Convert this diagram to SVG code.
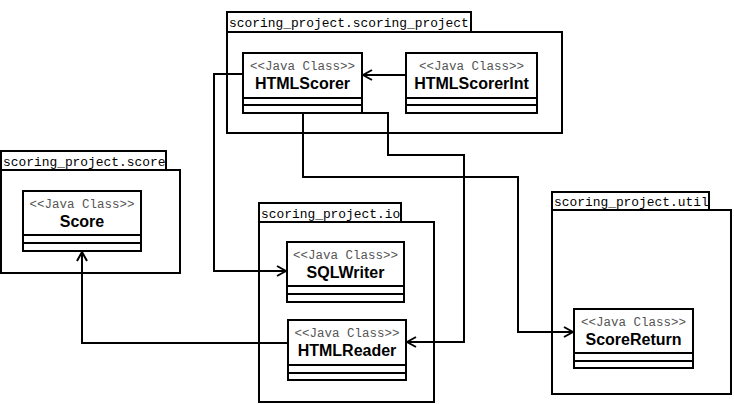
<svg xmlns="http://www.w3.org/2000/svg" width="734" height="404" viewBox="0 0 734 404">
<style>
.box{fill:#fff;stroke:#000;stroke-width:2}
.ln{fill:none;stroke:#000;stroke-width:2}
.pk{font-family:"Liberation Mono","Courier New",monospace;font-size:12.9px;fill:#000}
.st{font-family:"Liberation Mono","Courier New",monospace;font-size:12.5px;fill:#555;text-anchor:middle}
.nm{font-family:"Liberation Sans",Arial,sans-serif;font-size:16px;font-weight:bold;fill:#000;text-anchor:middle}
.con{fill:none;stroke:#000;stroke-width:2;stroke-linejoin:miter}
</style>
<defs>
<marker id="arr" viewBox="0 0 12 12" refX="11" refY="6" markerWidth="12" markerHeight="12" markerUnits="userSpaceOnUse" orient="auto">
<path d="M2,1 L11,6 L2,11" fill="none" stroke="#000" stroke-width="2"/>
</marker>
</defs>
<rect width="734" height="404" fill="#fff"/>

<g id="pkg-scoring_project">
<rect class="box" x="227" y="12" width="244" height="20"/>
<rect class="box" x="227" y="32" width="335" height="101"/>
<text class="pk" x="229" y="27">scoring_project.scoring_project</text>
</g>
<g id="pkg-score">
<rect class="box" x="1" y="151" width="165" height="19"/>
<rect class="box" x="1" y="170" width="179" height="103"/>
<text class="pk" x="3" y="166">scoring_project.score</text>
</g>
<g id="pkg-io">
<rect class="box" x="259" y="203" width="142" height="19"/>
<rect class="box" x="259" y="222" width="175" height="180"/>
<text class="pk" x="261" y="218">scoring_project.io</text>
</g>
<g id="pkg-util">
<rect class="box" x="552" y="192" width="157" height="18"/>
<rect class="box" x="552" y="210" width="179" height="184"/>
<text class="pk" x="554" y="206">scoring_project.util</text>
</g>

<g id="HTMLScorer">
<rect class="box" x="243" y="53" width="119" height="60"/>
<line class="ln" x1="243" y1="98" x2="362" y2="98"/>
<line class="ln" x1="243" y1="105" x2="362" y2="105"/>
<text class="st" x="302.5" y="70">&lt;&lt;Java Class&gt;&gt;</text>
<text class="nm" x="302.5" y="89">HTMLScorer</text>
</g>
<g id="HTMLScorerInt">
<rect class="box" x="406" y="53" width="131" height="60"/>
<line class="ln" x1="406" y1="98" x2="537" y2="98"/>
<line class="ln" x1="406" y1="105" x2="537" y2="105"/>
<text class="st" x="471.5" y="70">&lt;&lt;Java Class&gt;&gt;</text>
<text class="nm" x="471.5" y="89">HTMLScorerInt</text>
</g>
<g id="Score">
<rect class="box" x="23" y="191" width="118" height="60"/>
<line class="ln" x1="23" y1="235" x2="141" y2="235"/>
<line class="ln" x1="23" y1="243" x2="141" y2="243"/>
<text class="st" x="82" y="208">&lt;&lt;Java Class&gt;&gt;</text>
<text class="nm" x="82" y="227">Score</text>
</g>
<g id="SQLWriter">
<rect class="box" x="287" y="242" width="117" height="60"/>
<line class="ln" x1="287" y1="286" x2="404" y2="286"/>
<line class="ln" x1="287" y1="294" x2="404" y2="294"/>
<text class="st" x="345.5" y="259">&lt;&lt;Java Class&gt;&gt;</text>
<text class="nm" x="345.5" y="278">SQLWriter</text>
</g>
<g id="HTMLReader">
<rect class="box" x="288" y="320" width="118" height="60"/>
<line class="ln" x1="288" y1="365" x2="406" y2="365"/>
<line class="ln" x1="288" y1="373" x2="406" y2="373"/>
<text class="st" x="347" y="337">&lt;&lt;Java Class&gt;&gt;</text>
<text class="nm" x="347" y="356">HTMLReader</text>
</g>
<g id="ScoreReturn">
<rect class="box" x="574" y="309" width="119" height="59"/>
<line class="ln" x1="574" y1="353" x2="693" y2="353"/>
<line class="ln" x1="574" y1="361" x2="693" y2="361"/>
<text class="st" x="633.5" y="326">&lt;&lt;Java Class&gt;&gt;</text>
<text class="nm" x="633.5" y="345">ScoreReturn</text>
</g>

<g id="connectors">
<path class="con" d="M406,75 H363" marker-end="url(#arr)"/>
<path class="con" d="M243,74 H214 V271 H286" marker-end="url(#arr)"/>
<path class="con" d="M362,113 H388 V155 H464 V342 H407" marker-end="url(#arr)"/>
<path class="con" d="M303,113 V177 H518 V332 H573" marker-end="url(#arr)"/>
<path class="con" d="M288,343 H82 V252" marker-end="url(#arr)"/>
</g>
</svg>
